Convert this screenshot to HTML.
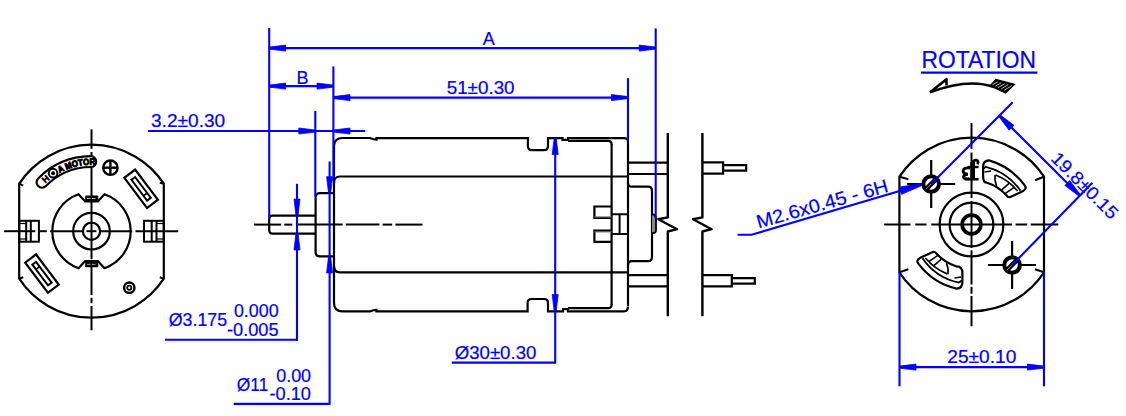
<!DOCTYPE html>
<html><head><meta charset="utf-8"><style>
html,body{margin:0;padding:0;background:#fff;}
svg{display:block;}
text{font-family:"Liberation Sans",sans-serif;}
</style></head><body>
<svg width="1126" height="416" viewBox="0 0 1126 416">
<rect width="1126" height="416" fill="#fff"/>
<path d="M19.2,183.71 L19.2,278.69 A86.5,86.5 0 0 0 163.8,278.69 L163.8,183.71 A86.5,86.5 0 0 0 19.2,183.71 Z" stroke="#000" stroke-width="2.2" fill="none" />
<line x1="19.20" y1="183.71" x2="23.20" y2="185.71" stroke="#000" stroke-width="2" />
<line x1="163.80" y1="183.71" x2="159.80" y2="182.71" stroke="#000" stroke-width="2" />
<line x1="19.20" y1="278.69" x2="23.20" y2="277.19" stroke="#000" stroke-width="2" />
<line x1="163.80" y1="278.69" x2="159.80" y2="277.19" stroke="#000" stroke-width="2" />
<line x1="4.10" y1="231.20" x2="35.30" y2="231.20" stroke="#000" stroke-width="2" />
<line x1="39.40" y1="231.20" x2="46.80" y2="231.20" stroke="#000" stroke-width="2" />
<line x1="50.10" y1="231.20" x2="83.00" y2="231.20" stroke="#000" stroke-width="2" />
<line x1="86.40" y1="231.20" x2="96.40" y2="231.20" stroke="#000" stroke-width="2" />
<line x1="100.00" y1="231.20" x2="132.20" y2="231.20" stroke="#000" stroke-width="2" />
<line x1="135.50" y1="231.20" x2="178.20" y2="231.20" stroke="#000" stroke-width="2" />
<line x1="91.50" y1="129.30" x2="91.50" y2="148.80" stroke="#000" stroke-width="2" />
<line x1="91.50" y1="152.00" x2="91.50" y2="259.20" stroke="#000" stroke-width="2" />
<line x1="91.50" y1="261.00" x2="91.50" y2="295.10" stroke="#000" stroke-width="2" />
<line x1="91.50" y1="297.80" x2="91.50" y2="303.20" stroke="#000" stroke-width="2" />
<line x1="91.50" y1="306.00" x2="91.50" y2="330.30" stroke="#000" stroke-width="2" />
<rect x="19.2" y="220.8" width="19.70" height="20.9" fill="none" stroke="#000" stroke-width="2"/>
<line x1="26.20" y1="220.80" x2="26.20" y2="241.70" stroke="#000" stroke-width="2" />
<line x1="30.80" y1="220.80" x2="30.80" y2="241.70" stroke="#000" stroke-width="2" />
<line x1="19.20" y1="223.50" x2="26.20" y2="223.50" stroke="#000" stroke-width="1.2" />
<line x1="19.20" y1="239.00" x2="26.20" y2="239.00" stroke="#000" stroke-width="1.2" />
<rect x="144.0" y="220.8" width="19.80" height="20.9" fill="none" stroke="#000" stroke-width="2"/>
<line x1="151.70" y1="220.80" x2="151.70" y2="241.70" stroke="#000" stroke-width="2" />
<line x1="156.50" y1="220.80" x2="156.50" y2="241.70" stroke="#000" stroke-width="2" />
<line x1="156.50" y1="223.50" x2="163.80" y2="223.50" stroke="#000" stroke-width="1.2" />
<line x1="156.50" y1="239.00" x2="163.80" y2="239.00" stroke="#000" stroke-width="1.2" />
<path d="M78.50,194.22 A39.2,39.2 0 0 0 78.50,268.18 L85.20,260.98 L97.80,260.98 L104.50,268.18 A39.2,39.2 0 0 0 104.50,194.22 L97.80,201.42 L85.20,201.42 Z" stroke="#000" stroke-width="2.2" fill="none" stroke-linejoin="round"/>
<rect x="85.2" y="195.45" width="13.1" height="6.1" rx="1.2" fill="#000"/>
<line x1="87.00" y1="198.50" x2="96.50" y2="198.50" stroke="#fff" stroke-width="0.7" stroke-dasharray="3.5 1.5"/>
<rect x="85.2" y="261.25" width="13.1" height="6.1" rx="1.2" fill="#000"/>
<line x1="87.00" y1="264.30" x2="96.50" y2="264.30" stroke="#fff" stroke-width="0.7" stroke-dasharray="3.5 1.5"/>
<circle cx="91.50" cy="231.20" r="18.30" stroke="#000" stroke-width="2.2" fill="none"/>
<circle cx="91.50" cy="231.20" r="8.60" stroke="#000" stroke-width="2.2" fill="none"/>
<circle cx="110.40" cy="167.70" r="7.20" stroke="#000" stroke-width="2.4" fill="none"/>
<line x1="110.40" y1="161.00" x2="110.40" y2="174.40" stroke="#000" stroke-width="2.4" />
<line x1="103.70" y1="167.70" x2="117.10" y2="167.70" stroke="#000" stroke-width="2.4" />
<circle cx="129.30" cy="287.70" r="5.20" stroke="#000" stroke-width="2.4" fill="none"/>
<circle cx="129.30" cy="287.70" r="2.10" stroke="#000" stroke-width="1.8" fill="none"/>
<g transform="translate(141.10 188.80) rotate(53.00)"><rect x="-18.9" y="-6.8" width="37.8" height="13.6" fill="none" stroke="#000" stroke-width="2.2"/><rect x="-13" y="-2.3" width="26" height="4.6" fill="none" stroke="#000" stroke-width="2"/><line x1="7" y1="-2.3" x2="7" y2="2.3" stroke="#000" stroke-width="1.6"/></g>
<g transform="translate(42.00 273.60) rotate(233.00)"><rect x="-18.9" y="-6.8" width="37.8" height="13.6" fill="none" stroke="#000" stroke-width="2.2"/><rect x="-13" y="-2.3" width="26" height="4.6" fill="none" stroke="#000" stroke-width="2"/><line x1="7" y1="-2.3" x2="7" y2="2.3" stroke="#000" stroke-width="1.6"/></g>
<path d="M42.03,182.24 A69.6,69.6 0 0 1 90.77,161.60" fill="none" stroke="#000" stroke-width="13.0" stroke-linecap="round"/>
<path d="M42.03,182.24 A69.6,69.6 0 0 1 90.77,161.60" fill="none" stroke="#fff" stroke-width="8.8" stroke-linecap="round"/>
<path id="lbl" d="M42.94,185.92 A66.4,66.4 0 0 1 94.98,164.89" fill="none" stroke="none"/>
<text font-size="9" font-weight="bold" fill="#000" stroke="#000" stroke-width="0.5" style="font-family:Liberation Sans"><textPath href="#lbl" startOffset="3.5">H</textPath></text>
<text font-size="9" font-weight="bold" fill="#000" stroke="#000" stroke-width="1.0" style="font-family:Liberation Sans"><textPath href="#lbl" startOffset="21" textLength="37" lengthAdjust="spacingAndGlyphs">A MOTOR</textPath></text>
<circle cx="53.09" cy="173.16" r="4.30" stroke="#000" stroke-width="2.0" fill="none"/>
<circle cx="53.09" cy="173.16" r="1.30" stroke="#000" stroke-width="1.4" fill="#000"/>
<path d="M315.6,215.6 L272.5,215.6 Q269.2,215.6 269.2,219 L269.2,230 Q269.2,233.6 272.5,233.6 L315.6,233.6" stroke="#000" stroke-width="2.2" fill="none" />
<path d="M333.7,193.2 L320,193.2 Q315.6,193.2 315.6,197.6 L315.6,252 Q315.6,256.4 320,256.4 L333.7,256.4" stroke="#000" stroke-width="2.2" fill="none" />
<path d="M628,306 L628,142 Q628,138.2 624,138.2 L568,138.2 L568,140.8" stroke="#000" stroke-width="2.2" fill="none" />
<path d="M334,300 L334,146.5 Q334,138 342.5,138 L370,138 Q374,139.6 376.5,139.6 L376.5,138.2 L527.9,138.2 L527.9,146 Q527.9,150.2 532,150.2 L544,150.2 Q548,150.2 548,146 L548,138.2 L562.5,138.2 L562.5,139.8 L568,139.8" stroke="#000" stroke-width="2.2" fill="none" />
<path d="M334,300 L334,303 Q334,311.4 342.5,311.4 L370,311.4 Q374,309.9 376.5,309.9 L376.5,311.3 L527.6,311.3 L527.6,303 Q527.6,299 531.6,299 L544,299 Q548,299 548,303 L548,311.3 L563,311.3 L563,309.2 L568,309.2" stroke="#000" stroke-width="2.2" fill="none" />
<path d="M568,140.8 L608,140.8 Q611.6,140.8 611.6,144.5" stroke="#000" stroke-width="2.2" fill="none" />
<path d="M568,308.2 L608,308.2 Q611.6,308.2 611.6,304.5" stroke="#000" stroke-width="2.2" fill="none" />
<path d="M568,308.5 L568,311.3 L624,311.3 Q628,311.3 628,306.5" stroke="#000" stroke-width="2.2" fill="none" />
<path d="M334,183 Q334,176.5 340,176.5 L628,176.5" stroke="#000" stroke-width="2.2" fill="none" />
<path d="M334,266 Q334,272.3 340,272.3 L628,272.3" stroke="#000" stroke-width="2.2" fill="none" />
<line x1="611.60" y1="144.00" x2="611.60" y2="305.00" stroke="#000" stroke-width="2.2" />
<path d="M611.6,206.5 L594.4,206.5 L594.4,218 L611.6,218" stroke="#000" stroke-width="2.2" fill="none" />
<path d="M611.6,230.7 L594.4,230.7 L594.4,241.8 L611.6,241.8" stroke="#000" stroke-width="2.2" fill="none" />
<line x1="594.40" y1="217.00" x2="611.60" y2="217.00" stroke="#666" stroke-width="1.2" />
<line x1="594.40" y1="231.80" x2="611.60" y2="231.80" stroke="#666" stroke-width="1.2" />
<path d="M611.6,214.2 L628,214.2 M611.6,233.9 L628,233.9 M619.6,214.2 L619.6,233.9" stroke="#000" stroke-width="2" fill="none" />
<path d="M628,183 Q628,186.7 632,186.7 L648,186.7 Q652,186.7 652,191 L652,257 Q652,261.2 648,261.2 L632,261.2 Q628,261.2 628,265" stroke="#000" stroke-width="2.2" fill="none" />
<path d="M652,214.5 L654,214.5 Q656,216 656,218 L656,230 Q656,232.5 654,233 L652,233" stroke="#000" stroke-width="1.8" fill="#888" />
<path d="M628,162.7 L667.8,162.7 M628,174 L667.8,174" stroke="#000" stroke-width="2.2" fill="none" />
<path d="M628,275.2 L667.8,275.2 M628,286.4 L667.8,286.4" stroke="#000" stroke-width="2.2" fill="none" />
<path d="M702.5,162.3 L723.1,162.3 L723.1,173.6 L702.5,173.6 M723.1,165.2 L746.2,165.2 L746.2,170.7 L723.1,170.7" stroke="#000" stroke-width="2.2" fill="none" />
<path d="M702.5,275.2 L731.8,275.2 L731.8,286.4 L702.5,286.4 M731.8,278.1 L754.8,278.1 L754.8,283.6 L731.8,283.6" stroke="#000" stroke-width="2.2" fill="none" />
<path d="M667.8,132.9 L667.8,217.4 L658.4,219.3 L677.0,229.2 L667.8,231.5 L667.8,316.2" stroke="#000" stroke-width="2.4" fill="none" stroke-linejoin="round"/>
<path d="M702.4,132.9 L702.4,217.4 L693.0,219.3 L711.6,229.2 L702.4,231.5 L702.4,316.2" stroke="#000" stroke-width="2.4" fill="none" stroke-linejoin="round"/>
<line x1="254.00" y1="224.60" x2="281.20" y2="224.60" stroke="#000" stroke-width="2" />
<line x1="284.30" y1="224.60" x2="292.30" y2="224.60" stroke="#000" stroke-width="2" />
<line x1="296.30" y1="224.60" x2="342.70" y2="224.60" stroke="#000" stroke-width="2" />
<line x1="345.80" y1="224.60" x2="379.40" y2="224.60" stroke="#000" stroke-width="2" />
<line x1="382.60" y1="224.60" x2="392.20" y2="224.60" stroke="#000" stroke-width="2" />
<line x1="395.40" y1="224.60" x2="422.50" y2="224.60" stroke="#000" stroke-width="2" />
<path d="M899.4,176.71 L899.4,272.29 A86.5,86.5 0 0 0 1044.0,272.29 L1044.0,176.71 A86.5,86.5 0 0 0 899.4,176.71 Z" stroke="#000" stroke-width="2.2" fill="none" />
<line x1="899.40" y1="176.71" x2="908.40" y2="179.21" stroke="#000" stroke-width="2" />
<line x1="1044.00" y1="176.71" x2="1035.00" y2="180.21" stroke="#000" stroke-width="2" />
<line x1="899.40" y1="272.29" x2="908.40" y2="269.29" stroke="#000" stroke-width="2" />
<line x1="1044.00" y1="272.29" x2="1035.00" y2="269.29" stroke="#000" stroke-width="2" />
<line x1="884.20" y1="224.50" x2="910.50" y2="224.50" stroke="#000" stroke-width="2" />
<line x1="915.30" y1="224.50" x2="926.50" y2="224.50" stroke="#000" stroke-width="2" />
<line x1="931.30" y1="224.50" x2="1012.00" y2="224.50" stroke="#000" stroke-width="2" />
<line x1="1015.60" y1="224.50" x2="1027.20" y2="224.50" stroke="#000" stroke-width="2" />
<line x1="1030.70" y1="224.50" x2="1058.30" y2="224.50" stroke="#000" stroke-width="2" />
<line x1="971.50" y1="123.00" x2="971.50" y2="148.70" stroke="#000" stroke-width="2" />
<line x1="971.50" y1="152.50" x2="971.50" y2="198.00" stroke="#000" stroke-width="2" />
<line x1="971.50" y1="201.00" x2="971.50" y2="248.00" stroke="#000" stroke-width="2" />
<line x1="971.50" y1="250.30" x2="971.50" y2="284.50" stroke="#000" stroke-width="2" />
<line x1="971.50" y1="286.80" x2="971.50" y2="293.70" stroke="#000" stroke-width="2" />
<line x1="971.50" y1="296.00" x2="971.50" y2="326.30" stroke="#000" stroke-width="2" />
<circle cx="971.50" cy="224.50" r="31.90" stroke="#000" stroke-width="2.2" fill="none"/>
<circle cx="971.50" cy="224.50" r="21.90" stroke="#000" stroke-width="2.2" fill="none"/>
<circle cx="971.50" cy="224.50" r="9.40" stroke="#000" stroke-width="3.6" fill="none"/>
<line x1="907.20" y1="184.00" x2="955.20" y2="184.00" stroke="#000" stroke-width="2.2" />
<line x1="931.20" y1="160.00" x2="931.20" y2="208.00" stroke="#000" stroke-width="2.2" />
<circle cx="931.20" cy="184.00" r="7.80" stroke="#000" stroke-width="4.0" fill="#fff"/>
<line x1="925.20" y1="190.00" x2="937.20" y2="178.00" stroke="#000" stroke-width="4.6" />
<line x1="926.20" y1="189.00" x2="931.20" y2="184.00" stroke="#bbb" stroke-width="0.7" />
<line x1="988.10" y1="265.00" x2="1036.10" y2="265.00" stroke="#000" stroke-width="2.2" />
<line x1="1012.10" y1="241.00" x2="1012.10" y2="289.00" stroke="#000" stroke-width="2.2" />
<circle cx="1012.10" cy="265.00" r="7.80" stroke="#000" stroke-width="4.0" fill="#fff"/>
<line x1="1006.10" y1="271.00" x2="1018.10" y2="259.00" stroke="#000" stroke-width="4.6" />
<line x1="1007.10" y1="270.00" x2="1012.10" y2="265.00" stroke="#bbb" stroke-width="0.7" />
<g transform="rotate(0 971.5 224.5)"><path d="M983.1,167 Q983.1,160.6 989.0,160.4 A66,66 0 0 1 1023.86,184.32 Q1028.01,188.50 1022.66,191.28 L1009.76,197.21 Q1007.44,197.42 1006.36,195.25 A45,45 0 0 0 986.35,182.55 Q983.1,182.5 983.1,176 Z" fill="none" stroke="#000" stroke-width="2.2"/><path d="M983.8000000000001,168.5 Q986.0,166.5 984.88,166.52 A59.5,59.5 0 0 1 1020.54,190.80" fill="none" stroke="#000" stroke-width="1.8"/><path d="M984.5,172 L991.0,171" fill="none" stroke="#000" stroke-width="1.6"/><path d="M995.61,175.07 A55,55 0 0 1 1017.61,191.00" fill="none" stroke="#000" stroke-width="1.6"/><path d="M995.18,174.86 Q994.20,179.95 996.55,185.92" fill="none" stroke="#000" stroke-width="1.6"/><line x1="1001.68" y1="189.78" x2="1009.67" y2="182.84" stroke="#000" stroke-width="1.6"/><line x1="1005.41" y1="193.42" x2="1014.14" y2="187.43" stroke="#000" stroke-width="1.6"/></g>
<g transform="rotate(180 971.5 224.5)"><path d="M980.6,167 Q980.6,160.6 986.5,160.4 A66,66 0 0 1 1023.86,184.32 Q1028.01,188.50 1022.66,191.28 L1009.76,197.21 Q1007.44,197.42 1006.36,195.25 A45,45 0 0 0 986.35,182.55 Q980.6,182.5 980.6,176 Z" fill="none" stroke="#000" stroke-width="2.2"/><path d="M981.3000000000001,168.5 Q983.5,166.5 984.88,166.52 A59.5,59.5 0 0 1 1020.54,190.80" fill="none" stroke="#000" stroke-width="1.8"/><path d="M982.0,172 L988.5,171" fill="none" stroke="#000" stroke-width="1.6"/><path d="M995.61,175.07 A55,55 0 0 1 1017.61,191.00" fill="none" stroke="#000" stroke-width="1.6"/><path d="M995.18,174.86 Q994.20,179.95 996.55,185.92" fill="none" stroke="#000" stroke-width="1.6"/><line x1="1001.68" y1="189.78" x2="1009.67" y2="182.84" stroke="#000" stroke-width="1.6"/><line x1="1005.41" y1="193.42" x2="1014.14" y2="187.43" stroke="#000" stroke-width="1.6"/></g>
<path d="M970,168 Q963.2,167.2 963.2,171.3 Q963.2,173.8 967.8,174.2 Q963.4,174.8 963.6,177.2 Q964,179.4 969.5,178.6" stroke="#000" stroke-width="2.9" fill="none" />
<rect x="970.4" y="162" width="4.6" height="17.2" fill="#000"/>
<path d="M972,165.5 Q972.3,159.8 976.3,160.1 Q979,160.5 977.6,164.2" stroke="#000" stroke-width="2.8" fill="none" />
<line x1="967.50" y1="167.00" x2="978.60" y2="167.00" stroke="#000" stroke-width="2.4" />
<line x1="964.50" y1="179.20" x2="978.60" y2="179.20" stroke="#000" stroke-width="2.6" />
<path d="M930.1,92.3 Q968,77.8 994,87" stroke="#000" stroke-width="2.6" fill="none" />
<path d="M930.1,92.3 L946.5,79.2 L946.5,85.6" stroke="#000" stroke-width="2.6" fill="none" stroke-linejoin="round"/>
<path d="M990,85.9 L995.9,79.4 L1014.5,84.2 L1005.6,93.1 Z" fill="#000" stroke="#000" stroke-width="1.2"/>
<line x1="997.63" y1="81.98" x2="992.37" y2="84.76" stroke="#ccc" stroke-width="0.9" />
<line x1="1001.17" y1="82.89" x2="995.34" y2="86.13" stroke="#ccc" stroke-width="0.9" />
<line x1="1004.70" y1="83.80" x2="998.30" y2="87.50" stroke="#ccc" stroke-width="0.9" />
<line x1="1008.23" y1="84.71" x2="1001.26" y2="88.87" stroke="#ccc" stroke-width="0.9" />
<line x1="1011.77" y1="85.62" x2="1004.23" y2="90.24" stroke="#ccc" stroke-width="0.9" />
<line x1="269.20" y1="27.90" x2="269.20" y2="217.30" stroke="#0000ff" stroke-width="2.1" />
<line x1="655.70" y1="28.40" x2="655.70" y2="217.80" stroke="#0000ff" stroke-width="2.1" />
<line x1="269.20" y1="48.10" x2="655.70" y2="48.10" stroke="#0000ff" stroke-width="2.1" />
<path d="M269.20,47.10 L285.70,45.10 L285.70,51.10 L269.20,49.10 Z" fill="#0000ff" stroke="#0000ff" stroke-width="0.8" stroke-linejoin="round"/>
<path d="M655.70,49.10 L639.20,51.10 L639.20,45.10 L655.70,47.10 Z" fill="#0000ff" stroke="#0000ff" stroke-width="0.8" stroke-linejoin="round"/>
<text x="488.80" y="45.20" font-size="18" fill="#0000ff" stroke="#0000ff" stroke-width="0.2" text-anchor="middle"   >A</text>
<line x1="333.40" y1="66.40" x2="333.40" y2="180.60" stroke="#0000ff" stroke-width="2.1" />
<line x1="269.20" y1="86.10" x2="333.50" y2="86.10" stroke="#0000ff" stroke-width="2.1" />
<path d="M269.20,85.10 L285.70,83.10 L285.70,89.10 L269.20,87.10 Z" fill="#0000ff" stroke="#0000ff" stroke-width="0.8" stroke-linejoin="round"/>
<path d="M333.50,87.10 L317.00,89.10 L317.00,83.10 L333.50,85.10 Z" fill="#0000ff" stroke="#0000ff" stroke-width="0.8" stroke-linejoin="round"/>
<text x="302.50" y="83.80" font-size="18" fill="#0000ff" stroke="#0000ff" stroke-width="0.2" text-anchor="middle"   >B</text>
<line x1="628.00" y1="78.20" x2="628.00" y2="141.00" stroke="#0000ff" stroke-width="2.1" />
<line x1="333.50" y1="97.60" x2="628.00" y2="97.60" stroke="#0000ff" stroke-width="2.1" />
<path d="M333.50,96.60 L350.00,94.60 L350.00,100.60 L333.50,98.60 Z" fill="#0000ff" stroke="#0000ff" stroke-width="0.8" stroke-linejoin="round"/>
<path d="M628.00,98.60 L611.50,100.60 L611.50,94.60 L628.00,96.60 Z" fill="#0000ff" stroke="#0000ff" stroke-width="0.8" stroke-linejoin="round"/>
<text x="446.70" y="93.80" font-size="18" fill="#0000ff" stroke="#0000ff" stroke-width="0.2" text-anchor="start" textLength="67.9" lengthAdjust="spacingAndGlyphs"  >51±0.30</text>
<line x1="315.30" y1="110.90" x2="315.30" y2="196.80" stroke="#0000ff" stroke-width="2.1" />
<line x1="148.10" y1="131.00" x2="365.20" y2="131.00" stroke="#0000ff" stroke-width="2.1" />
<path d="M315.30,132.00 L298.80,134.00 L298.80,128.00 L315.30,130.00 Z" fill="#0000ff" stroke="#0000ff" stroke-width="0.8" stroke-linejoin="round"/>
<path d="M333.50,130.00 L350.00,128.00 L350.00,134.00 L333.50,132.00 Z" fill="#0000ff" stroke="#0000ff" stroke-width="0.8" stroke-linejoin="round"/>
<text x="151.00" y="127.40" font-size="18" fill="#0000ff" stroke="#0000ff" stroke-width="0.2" text-anchor="start" textLength="74.2" lengthAdjust="spacingAndGlyphs"  >3.2±0.30</text>
<line x1="297.00" y1="183.80" x2="297.00" y2="340.85" stroke="#0000ff" stroke-width="2.1" />
<path d="M296.00,215.60 L294.00,199.10 L300.00,199.10 L298.00,215.60 Z" fill="#0000ff" stroke="#0000ff" stroke-width="0.8" stroke-linejoin="round"/>
<path d="M298.00,233.40 L300.00,249.90 L294.00,249.90 L296.00,233.40 Z" fill="#0000ff" stroke="#0000ff" stroke-width="0.8" stroke-linejoin="round"/>
<line x1="165.00" y1="339.80" x2="297.00" y2="339.80" stroke="#0000ff" stroke-width="2.1" />
<text x="168.70" y="326.10" font-size="18" fill="#0000ff" stroke="#0000ff" stroke-width="0.2" text-anchor="start" textLength="58.4" lengthAdjust="spacingAndGlyphs"  >Ø3.175</text>
<text x="233.90" y="317.00" font-size="18" fill="#0000ff" stroke="#0000ff" stroke-width="0.2" text-anchor="start" textLength="44.7" lengthAdjust="spacingAndGlyphs"  >0.000</text>
<text x="227.00" y="336.00" font-size="18" fill="#0000ff" stroke="#0000ff" stroke-width="0.2" text-anchor="start" textLength="51.6" lengthAdjust="spacingAndGlyphs"  >-0.005</text>
<line x1="329.60" y1="161.50" x2="329.60" y2="404.90" stroke="#0000ff" stroke-width="2.1" />
<path d="M328.60,193.20 L326.60,176.70 L332.60,176.70 L330.60,193.20 Z" fill="#0000ff" stroke="#0000ff" stroke-width="0.8" stroke-linejoin="round"/>
<path d="M330.60,256.40 L332.60,272.90 L326.60,272.90 L328.60,256.40 Z" fill="#0000ff" stroke="#0000ff" stroke-width="0.8" stroke-linejoin="round"/>
<line x1="233.70" y1="403.90" x2="329.60" y2="403.90" stroke="#0000ff" stroke-width="2.1" />
<text x="236.80" y="390.60" font-size="18" fill="#0000ff" stroke="#0000ff" stroke-width="0.2" text-anchor="start" textLength="31.5" lengthAdjust="spacingAndGlyphs"  >Ø11</text>
<text x="276.20" y="382.00" font-size="18" fill="#0000ff" stroke="#0000ff" stroke-width="0.2" text-anchor="start" textLength="34.9" lengthAdjust="spacingAndGlyphs"  >0.00</text>
<text x="269.50" y="399.70" font-size="18" fill="#0000ff" stroke="#0000ff" stroke-width="0.2" text-anchor="start" textLength="41.5" lengthAdjust="spacingAndGlyphs"  >-0.10</text>
<line x1="555.20" y1="138.00" x2="555.20" y2="363.65" stroke="#0000ff" stroke-width="2.1" />
<path d="M556.20,138.00 L558.20,154.50 L552.20,154.50 L554.20,138.00 Z" fill="#0000ff" stroke="#0000ff" stroke-width="0.8" stroke-linejoin="round"/>
<path d="M554.20,311.00 L552.20,294.50 L558.20,294.50 L556.20,311.00 Z" fill="#0000ff" stroke="#0000ff" stroke-width="0.8" stroke-linejoin="round"/>
<line x1="451.80" y1="362.60" x2="555.20" y2="362.60" stroke="#0000ff" stroke-width="2.1" />
<text x="454.70" y="358.70" font-size="18" fill="#0000ff" stroke="#0000ff" stroke-width="0.2" text-anchor="start" textLength="81.7" lengthAdjust="spacingAndGlyphs"  >Ø30±0.30</text>
<line x1="899.50" y1="271.80" x2="899.50" y2="386.30" stroke="#0000ff" stroke-width="2.1" />
<line x1="1044.00" y1="271.80" x2="1044.00" y2="386.30" stroke="#0000ff" stroke-width="2.1" />
<line x1="899.50" y1="367.10" x2="1044.00" y2="367.10" stroke="#0000ff" stroke-width="2.1" />
<path d="M899.50,366.10 L916.00,364.10 L916.00,370.10 L899.50,368.10 Z" fill="#0000ff" stroke="#0000ff" stroke-width="0.8" stroke-linejoin="round"/>
<path d="M1044.00,368.10 L1027.50,370.10 L1027.50,364.10 L1044.00,366.10 Z" fill="#0000ff" stroke="#0000ff" stroke-width="0.8" stroke-linejoin="round"/>
<text x="947.30" y="362.70" font-size="18" fill="#0000ff" stroke="#0000ff" stroke-width="0.2" text-anchor="start" textLength="69.1" lengthAdjust="spacingAndGlyphs"  >25±0.10</text>
<text x="921.50" y="67.70" font-size="24" fill="#0000ff" stroke="#0000ff" stroke-width="0.2" text-anchor="start" textLength="114.5" lengthAdjust="spacingAndGlyphs"  >ROTATION</text>
<line x1="921.00" y1="72.70" x2="1037.40" y2="72.70" stroke="#0000ff" stroke-width="2.2" />
<path d="M737.6,234.7 L751.6,234.7 L921.6,184.5" stroke="#0000ff" stroke-width="2.1" fill="none" />
<path d="M921.88,185.46 L901.58,194.37 L899.42,187.09 L921.32,183.54 Z" fill="#0000ff" stroke="#0000ff" stroke-width="0.8" stroke-linejoin="round"/>
<text x="758.50" y="228.40" font-size="19" fill="#0000ff" stroke="#0000ff" stroke-width="0.2" text-anchor="start" textLength="136.0" lengthAdjust="spacingAndGlyphs" transform="rotate(-15.75 758.50 228.40)" >M2.6x0.45 - 6H</text>
<line x1="931.20" y1="184.00" x2="1012.70" y2="102.30" stroke="#0000ff" stroke-width="2.1" />
<line x1="1012.10" y1="265.00" x2="1092.40" y2="182.70" stroke="#0000ff" stroke-width="2.1" />
<line x1="999.20" y1="115.40" x2="1079.70" y2="195.40" stroke="#0000ff" stroke-width="2.1" />
<path d="M999.91,114.69 L1013.98,125.37 L1009.17,130.18 L998.49,116.11 Z" fill="#0000ff" stroke="#0000ff" stroke-width="0.8" stroke-linejoin="round"/>
<path d="M1078.99,196.11 L1064.92,185.43 L1069.73,180.62 L1080.41,194.69 Z" fill="#0000ff" stroke="#0000ff" stroke-width="0.8" stroke-linejoin="round"/>
<text x="1050.00" y="159.50" font-size="18" fill="#0000ff" stroke="#0000ff" stroke-width="0.2" text-anchor="start" textLength="86.0" lengthAdjust="spacingAndGlyphs" transform="rotate(45.00 1050.00 159.50)" >19.8±0.15</text>
</svg></body></html>
